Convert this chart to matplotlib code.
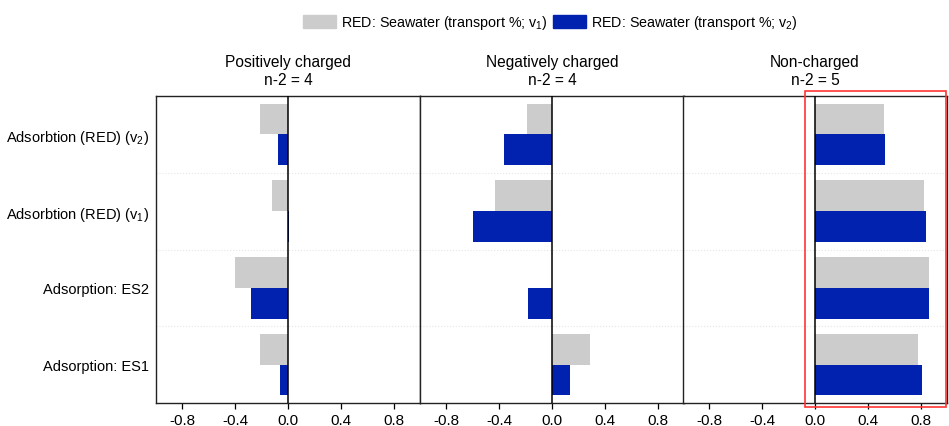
import matplotlib
matplotlib.use("Agg")
import matplotlib.pyplot as plt
from matplotlib.patches import Patch, Rectangle
import numpy as np

plt.rcParams['font.family'] = ['Liberation Sans', 'DejaVu Sans']
plt.rcParams['font.size'] = 10.5

rows = ["Adsorption: ES1", "Adsorption: ES2",
        "Adsorbtion (RED) (v$\\mathregular{_1}$)", "Adsorbtion (RED) (v$\\mathregular{_2}$)"]
panels = ["Positively charged\nn-2 = 4", "Negatively charged\nn-2 = 4", "Non-charged\nn-2 = 5"]

# values per panel, ordered like rows (bottom to top)
v1_vals = [[-0.21, -0.40, -0.12, -0.215],
           [0.29, 0.0, -0.43, -0.186],
           [0.78, 0.86, 0.828, 0.523]]
v2_vals = [[-0.063, -0.28, 0.01, -0.079],
           [0.14, -0.18, -0.60, -0.365],
           [0.81, 0.866, 0.838, 0.533]]

gray = "#cccccc"
blue = "#0022ae"
ticks = [-0.8, -0.4, 0.0, 0.4, 0.8]

fig = plt.figure(figsize=(9.49, 4.27), dpi=100)
lefts = [156 / 949, 420 / 949, 683 / 949]
w = 264 / 949
bottom = 1 - 404 / 427
h = 307 / 427
y = np.arange(len(rows))

axes = []
for i in range(3):
    ax = fig.add_axes([lefts[i], bottom, w, h])
    axes.append(ax)
    ax.barh(y + 0.2, v1_vals[i], height=0.4, color=gray)
    ax.barh(y - 0.2, v2_vals[i], height=0.4, color=blue)
    ax.axvline(0, color="black", lw=1.1, zorder=3)
    for b in [0.5, 1.5, 2.5]:
        ax.axhline(b, color="#e6e6e6", lw=0.8, ls=":", zorder=0)
    ax.set_xlim(-1.0, 1.0)
    ax.set_ylim(-0.5, 3.5)
    ax.set_xticks(ticks)
    ax.set_xticklabels(["%.1f" % t for t in ticks])
    ax.tick_params(axis='x', direction='out', length=4, width=0.9, labelsize=11, pad=3)
    for s in ax.spines.values():
        s.set_color("#222222")
        s.set_linewidth(1.0)
    if i == 0:
        ax.set_yticks(y)
        ax.set_yticklabels(rows)
        ax.tick_params(axis='y', length=0, pad=5, labelsize=10.5)
    else:
        ax.set_yticks([])
    ax.set_title(panels[i], fontsize=11.2, linespacing=1.25, pad=9)

axes[2].add_patch(Rectangle((-0.072, -0.55), 1.065, 4.12, fill=False,
                            edgecolor="#ff3333", lw=1.2, clip_on=False, zorder=5))

handles = [Patch(color=gray, label="RED: Seawater (transport %; v$\\mathregular{_1}$)"),
           Patch(color=blue, label="RED: Seawater (transport %; v$\\mathregular{_2}$)")]
fig.legend(handles=handles, loc="center", bbox_to_anchor=(0.58, 0.945), ncol=2,
           frameon=False, fontsize=10.3, handlelength=2.3, handleheight=1.1,
           columnspacing=0.35, handletextpad=0.35)

fig.savefig("out.png", dpi=100)
